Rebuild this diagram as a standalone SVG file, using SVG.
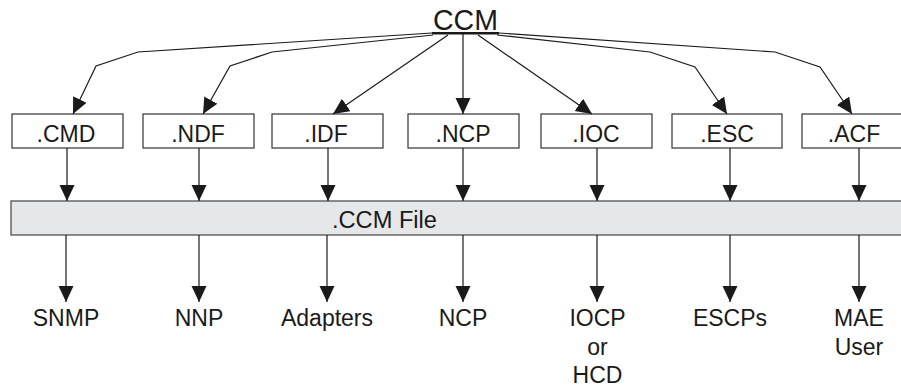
<svg xmlns="http://www.w3.org/2000/svg" width="901" height="387" viewBox="0 0 901 387">
<defs>
<style>
text{font-family:"Liberation Sans",Arial,sans-serif;fill:#1a1a1a;text-anchor:middle}
.lbl{font-size:23px}
.box{fill:#fff;stroke:#333;stroke-width:1.2}
.bar{fill:#e6e7e8;stroke:#444;stroke-width:1.2}
.ln{fill:none;stroke:#1a1a1a;stroke-width:1.2}
</style>
<marker id="ah" markerUnits="userSpaceOnUse" markerWidth="17" markerHeight="16" refX="16" refY="7.5" orient="auto">
<path d="M0,0 L16,7.5 L0,15 z" fill="#1a1a1a"/>
</marker>
</defs>
<rect width="901" height="387" fill="#fff"/>
<g id="ccm">
<text x="465.5" y="30" font-size="30" textLength="65" lengthAdjust="spacingAndGlyphs">CCM</text>
<rect x="432" y="32" width="67" height="2.5" fill="#1a1a1a"/>
</g>
<g id="ccmfile">
<rect class="bar" x="11" y="201" width="895" height="34"/>
<text x="384.5" y="228" font-size="23" textLength="105" lengthAdjust="spacingAndGlyphs">.CCM File</text>
</g>
<g id="cmd"><rect class="box" x="12" y="114" width="111" height="34"/><text class="lbl" x="66" y="142">.CMD</text></g>
<g id="ndf"><rect class="box" x="143" y="114" width="111" height="34"/><text class="lbl" x="198" y="142">.NDF</text></g>
<g id="idf"><rect class="box" x="272" y="114" width="111" height="34"/><text class="lbl" x="326" y="142">.IDF</text></g>
<g id="ncp"><rect class="box" x="408" y="114" width="111" height="34"/><text class="lbl" x="463" y="142">.NCP</text></g>
<g id="ioc"><rect class="box" x="541" y="114" width="111" height="34"/><text class="lbl" x="596" y="142">.IOC</text></g>
<g id="esc"><rect class="box" x="672" y="114" width="110" height="34"/><text class="lbl" x="727" y="142">.ESC</text></g>
<g id="acf"><rect class="box" x="802" y="114" width="111" height="34"/><text class="lbl" x="854" y="142">.ACF</text></g>
<g id="snmp"><text class="lbl" x="66" y="326">SNMP</text></g>
<g id="nnp"><text class="lbl" x="199" y="326">NNP</text></g>
<g id="adapters"><text class="lbl" x="327" y="326">Adapters</text></g>
<g id="ncpout"><text class="lbl" x="463" y="326">NCP</text></g>
<g id="iocp"><text class="lbl" x="597.5" y="326">IOCP</text><text class="lbl" x="597.5" y="355">or</text><text class="lbl" x="597.5" y="383">HCD</text></g>
<g id="escps"><text class="lbl" x="730" y="326">ESCPs</text></g>
<g id="mae"><text class="lbl" x="859" y="326">MAE</text><text class="lbl" x="859" y="355">User</text></g>
<g id="connectors">
<polyline class="ln" marker-end="url(#ah)" points="432,33 138,52 96,66 73,114"/>
<polyline class="ln" marker-end="url(#ah)" points="433,35 272,52 230,66 203,114"/>
<polyline class="ln" marker-end="url(#ah)" points="448,35 333,114"/>
<polyline class="ln" marker-end="url(#ah)" points="463,34 463,114"/>
<polyline class="ln" marker-end="url(#ah)" points="478,35 592,114"/>
<polyline class="ln" marker-end="url(#ah)" points="497,35 650,52 695,67 727,114"/>
<polyline class="ln" marker-end="url(#ah)" points="499,33 775,52 820,67 852,114"/>
<line class="ln" marker-end="url(#ah)" x1="67" y1="148" x2="67" y2="201"/>
<line class="ln" marker-end="url(#ah)" x1="199" y1="148" x2="199" y2="201"/>
<line class="ln" marker-end="url(#ah)" x1="328" y1="148" x2="328" y2="201"/>
<line class="ln" marker-end="url(#ah)" x1="463" y1="148" x2="463" y2="201"/>
<line class="ln" marker-end="url(#ah)" x1="597" y1="148" x2="597" y2="201"/>
<line class="ln" marker-end="url(#ah)" x1="730" y1="148" x2="730" y2="201"/>
<line class="ln" marker-end="url(#ah)" x1="859" y1="148" x2="859" y2="201"/>
<line class="ln" marker-end="url(#ah)" x1="66" y1="235" x2="66" y2="302"/>
<line class="ln" marker-end="url(#ah)" x1="199" y1="235" x2="199" y2="302"/>
<line class="ln" marker-end="url(#ah)" x1="327" y1="235" x2="327" y2="302"/>
<line class="ln" marker-end="url(#ah)" x1="463" y1="235" x2="463" y2="302"/>
<line class="ln" marker-end="url(#ah)" x1="597" y1="235" x2="597" y2="302"/>
<line class="ln" marker-end="url(#ah)" x1="730" y1="235" x2="730" y2="302"/>
<line class="ln" marker-end="url(#ah)" x1="859" y1="235" x2="859" y2="302"/>
</g>
</svg>
